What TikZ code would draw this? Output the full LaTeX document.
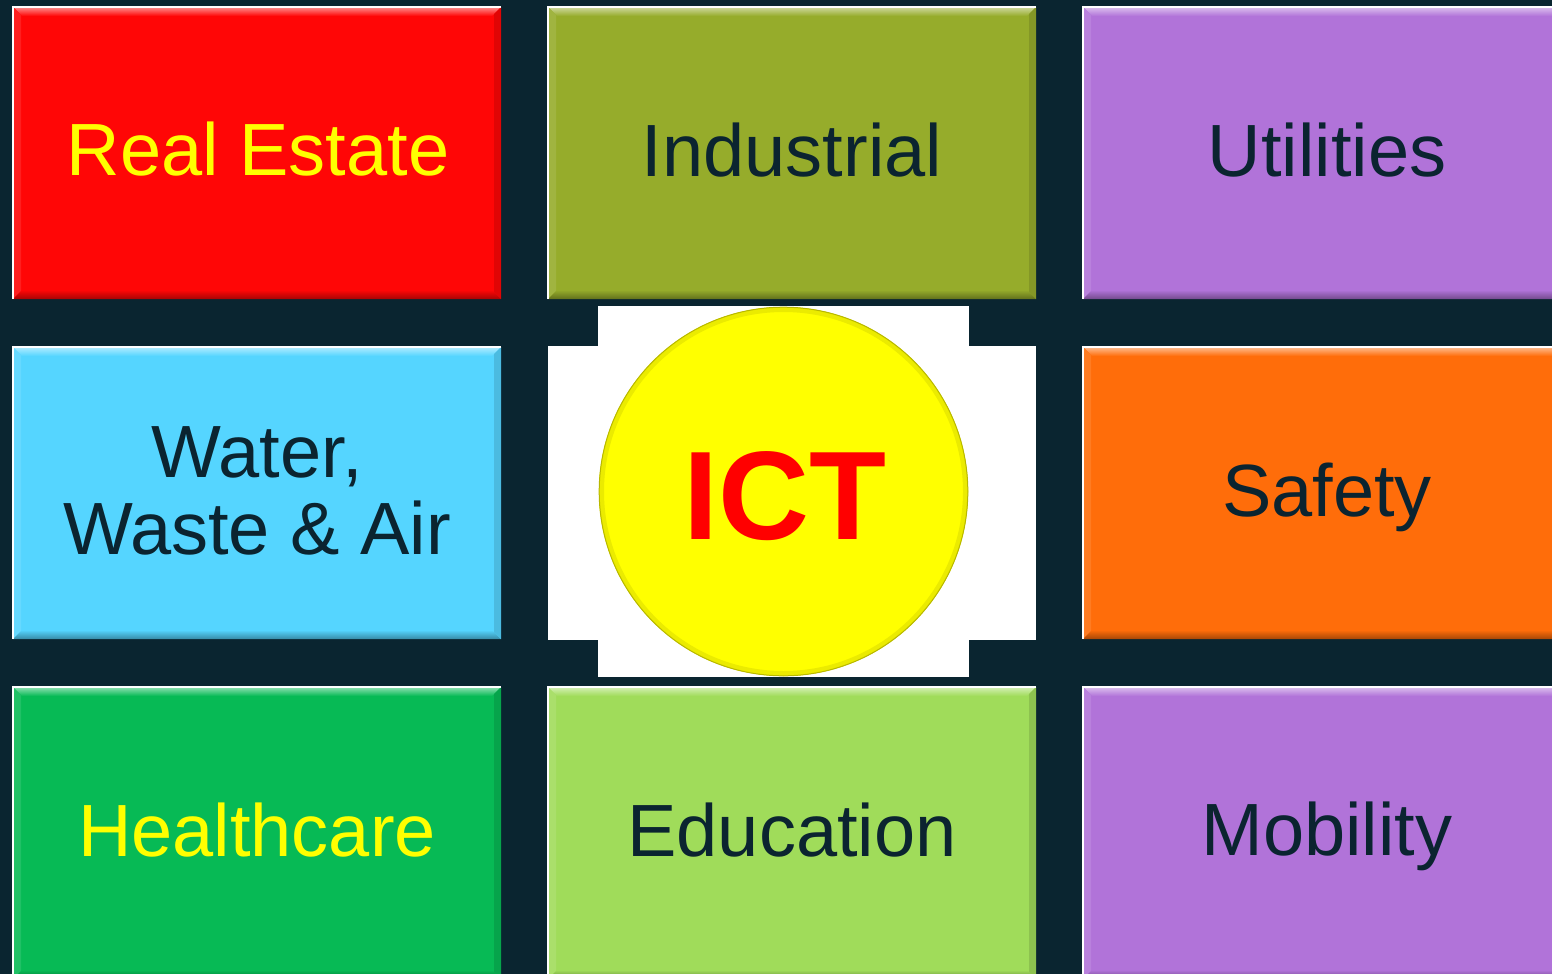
\documentclass[tikz,border=0pt]{standalone}
\usepackage{fontspec}
\setmainfont{Liberation Sans}
\usetikzlibrary{calc}

\definecolor{bg}{HTML}{0A2530}
\definecolor{ink}{HTML}{0B2430}
\definecolor{tred}{HTML}{FF0606}
\definecolor{tolive}{HTML}{96AC2B}
\definecolor{tpurple}{HTML}{B173D9}
\definecolor{tcyan}{HTML}{55D5FF}
\definecolor{torange}{HTML}{FF6D0A}
\definecolor{tgreen}{HTML}{07BA55}
\definecolor{tlime}{HTML}{A0DC5A}
\definecolor{tyellow}{HTML}{FFFF00}

\tikzset{
  tile/.style={rectangle, minimum width=488, minimum height=292,
    inner sep=0, outer sep=0, draw=none},
  lbl/.style={anchor=base, inner sep=0, font=\fontsize{74}{80}\selectfont},
  big/.style={anchor=base, inner sep=0, font=\fontsize{126}{134}\selectfont\bfseries}
}

% bevelled tile: name, centre x, centre y, colour
\newcommand\tile[4]{%
  \node[tile, fill=#4] (#1) at (#2,#3) {};
  \shade[top color=#4!45!white, bottom color=#4]
    (#1.north west) -- (#1.north east) -- ($(#1.north east)+(-9,9)$)
    -- ($(#1.north west)+(9,9)$) -- cycle;
  \fill[#4!90!white]
    (#1.north west) -- ($(#1.north west)+(8,8)$)
    -- ($(#1.south west)+(8,-8)$) -- (#1.south west) -- cycle;
  \shade[top color=#4, bottom color=#4!65!black]
    (#1.south west) -- ($(#1.south west)+(9,-9)$)
    -- ($(#1.south east)+(-9,-9)$) -- (#1.south east) -- cycle;
  \fill[#4!88!black]
    (#1.north east) -- ($(#1.north east)+(-7,7)$)
    -- ($(#1.south east)+(-7,-7)$) -- (#1.south east) -- cycle;
  \draw[white, line width=1.3] (#1.south west) -- (#1.north west) -- (#1.north east);
}

\begin{document}
\begin{tikzpicture}[x=1pt, y=-1pt]
  \fill[bg] (0,0) rectangle (1552,974);
  \useasboundingbox (0,0) rectangle (1552,974);

  % row 1
  \tile{realestate}{257}{153}{tred}
  \tile{industrial}{792}{153}{tolive}
  \tile{utilities}{1327}{153}{tpurple}
  % row 2
  \tile{water}{257}{493}{tcyan}
  \tile{safety}{1327}{493}{torange}
  % row 3
  \tile{health}{257}{833}{tgreen}
  \tile{education}{792}{833}{tlime}
  \tile{mobility}{1327}{833}{tpurple}

  % white cross behind the hub
  \fill[white] (548,346) rectangle (1036,640);
  \fill[white] (598,306) rectangle (969,677);

  % hub disc with a soft darker rim
  \node[circle, minimum size=369, inner sep=0, outer sep=0,
        fill=tyellow] (ict) at (783.5,491.5) {};
  \draw[tyellow!92!black, line width=5] (ict.center) circle (182);
  \draw[tyellow!72!black, line width=1] (ict.center) circle (184.3);

  % labels
  \node[lbl, text=tyellow] (tRe) at (258,175) {Real Estate};
  \node[lbl, text=ink] (tIn) at (792,176) {Industrial};
  \node[lbl, text=ink] (tUt) at (1327,176) {Utilities};
  \node[lbl, text=ink] (tWa1) at (257,477) {Water,};
  \node[lbl, text=ink] (tWa2) at (257,554) {Waste \& Air};
  \node[lbl, text=ink] (tSa) at (1327,516) {Safety};
  \node[lbl, text=tyellow] (tHe) at (257,856) {Healthcare};
  \node[lbl, text=ink] (tEd) at (792,856) {Education};
  \node[lbl, text=ink] (tMo) at (1327,855) {Mobility};
  \node[big, text=red] (tIct) at (785,539) {ICT};
\end{tikzpicture}
\end{document}
